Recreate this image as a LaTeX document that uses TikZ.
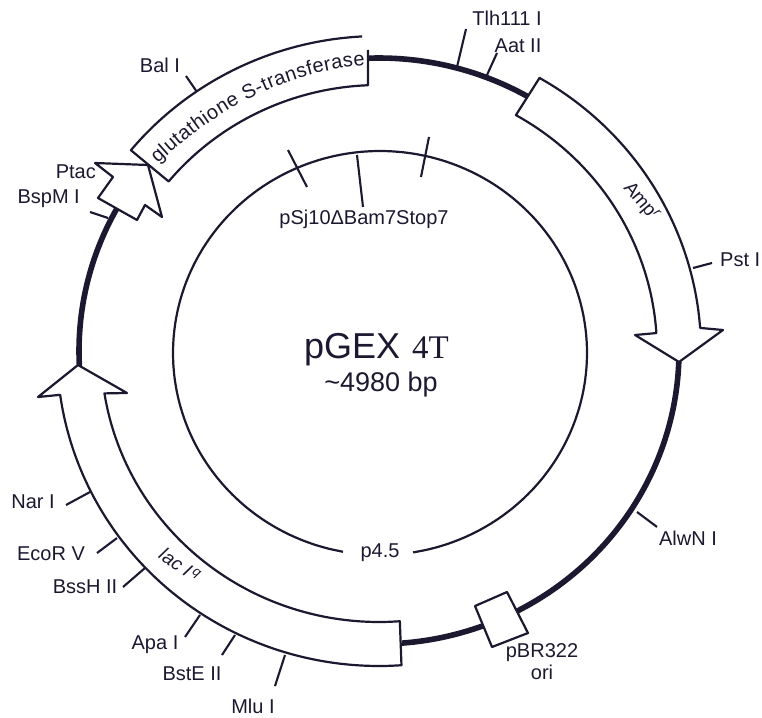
\documentclass[tikz,border=0pt]{standalone}
\usepackage{fontspec}
\setmainfont{Liberation Sans}
\newfontfamily\serifface{Liberation Serif}
\usetikzlibrary{decorations.text}
\definecolor{ink}{HTML}{1C1830}
\tikzset{
  thinline/.style={draw=ink,line width=2.2pt,line join=round},
  thickline/.style={draw=ink,line width=5.6pt},
  feature/.style={thinline,fill=white},
  tick/.style={draw=ink,line width=2.1pt},
  lbl/.style={text=ink,inner sep=0pt,font=\fontsize{20}{22}\selectfont},
  arclbl/.style={text=ink,inner sep=0pt,font=\fontsize{19}{21}\selectfont},
  ringplot/.style={domain=#1,samples=40,smooth}
}
\begin{document}
\begin{tikzpicture}[x=1pt,y=-1pt]
\useasboundingbox (0,0) rectangle (762,717);
% inner circle
\draw[thinline] plot[domain=100.3:440.8,samples=90,smooth] ({380+207*cos(\x)},{353+202*sin(\x)});
% thick backbone
\draw[thickline] plot[ringplot=268:300] ({379+300*cos(\x)},{351+293*sin(\x)});
\draw[thickline] plot[ringplot=2:85.6] ({379+300*cos(\x)},{351+293*sin(\x)});
\draw[thickline] plot[ringplot=177:209] ({379+300*cos(\x)},{351+293*sin(\x)});
% Amp arrow
\draw[feature] plot[ringplot=-60.1:-4.2] ({379+322*cos(\x)},{351+315*sin(\x)}) -- (723,330) -- (679,362) -- (635,335) -- plot[ringplot=-3.8:-60.5] ({379+278*cos(\x)},{351+271*sin(\x)}) -- cycle;
% lacI arrow
\draw[feature] plot[ringplot=86:172] ({379+322*cos(\x)},{351+315*sin(\x)}) -- (38,397) -- (78,365) -- (127,393) -- plot[ringplot=171:85.7] ({379+278*cos(\x)},{351+271*sin(\x)}) -- cycle;
% ori box
\draw[feature] (475,606) -- (507,592) -- (528,633) -- (492,647) -- cycle;
% GST box
\fill[white] plot[ringplot=267:219.6] ({379+322*cos(\x)},{351+315*sin(\x)}) -- plot[ringplot=219.6:267.7] ({379+273*cos(\x)},{351+266*sin(\x)}) -- (368,38) -- cycle;
\draw[thinline] plot[ringplot=267:219.6] ({379+322*cos(\x)},{351+315*sin(\x)}) -- plot[ringplot=219.6:267.7] ({379+273*cos(\x)},{351+266*sin(\x)}) -- (368,50);
% Ptac arrow
\draw[feature] (95,163) -- (148,165) -- (162,217) -- (145,205) -- (137,220) -- (98,198) -- (113,177) -- cycle;
% ticks, inner
\draw[tick] (288,150) -- (307,187);
\draw[tick] (357,155) -- (363,207);
\draw[tick] (429,137) -- (421,177);
% ticks, outer
\draw[tick] (186,76) -- (197,92);
\draw[tick] (90,212) -- (108,218);
\draw[tick] (466,29) -- (457,67);
\draw[tick] (497,53) -- (487,75);
\draw[tick] (712,263) -- (693,268);
\draw[tick] (637,512) -- (657,527);
\draw[tick] (90,492) -- (66,505);
\draw[tick] (117,538) -- (97,553);
\draw[tick] (145,568) -- (123,587);
\draw[tick] (200,615) -- (185,637);
\draw[tick] (235,635) -- (222,655);
\draw[tick] (285,655) -- (275,686);
% labels
\node[lbl] (bal) at (160,65) {Bal I};
\node[lbl,anchor=east] (ptac) at (96,172) {Ptac};
\node[lbl,anchor=east] (bspm) at (80,199) {BspM I};
\node[lbl] (tlh) at (507,18) {Tlh111 I};
\node[lbl] (aat) at (518,46) {Aat II};
\node[lbl,anchor=west] (pst) at (720,260) {Pst I};
\node[lbl] (alwn) at (688,538) {AlwN I};
\node[lbl] (pbr) at (542,653) {pBR322};
\node[lbl] (ori) at (542,672) {ori};
\node[lbl] (mlu) at (253,706) {Mlu I};
\node[lbl] (bste) at (192,674) {BstE II};
\node[lbl] (apa) at (155,645) {Apa I};
\node[lbl] (bssh) at (85,587) {BssH II};
\node[lbl] (ecor) at (51,554) {EcoR V};
\node[lbl] (nar) at (33,502) {Nar I};
\node[lbl] (p45) at (380,553) {p4.5};
\node[lbl] (psj) at (364,219) {pSj10ΔBam7Stop7};
\node[arclbl,rotate=-50] (amp) at (641,202) {Amp\textsuperscript{\textit{r}}};
\node[arclbl,rotate=-35] (lac) at (180,565) {\textit{lac I}\textsuperscript{\,\textit{q}}};
\node[text=ink,inner sep=0pt,anchor=base west,font=\fontsize{36}{38}\selectfont] (pgex) at (304,358) {pGEX};
\node[text=ink,inner sep=0pt,anchor=base west,font=\serifface\fontsize{33}{36}\selectfont] (four) at (412,358) {4T};
\node[text=ink,inner sep=0pt,font=\fontsize{27}{30}\selectfont] (size) at (381,385) {\textasciitilde 4980 bp};
% gene name along the box
\path[postaction={decorate},decoration={text along path,text align=fit to path,
  text={|\fontsize{20}{22}\selectfont\color{ink}|glutathione S-transferase}}]
  (158,164) .. controls (215,110) and (285,72) .. (365,65);
\end{tikzpicture}
\end{document}
